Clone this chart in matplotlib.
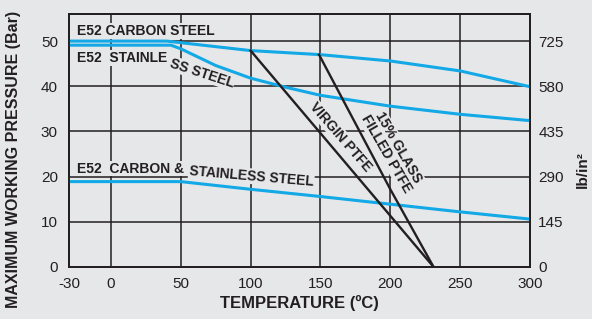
import matplotlib
matplotlib.use("Agg")
import matplotlib.pyplot as plt

plt.rcParams["font.family"] = ["Liberation Sans", "DejaVu Sans"]

# --- data ---
carbon_t = [-30, 40, 100, 150, 200, 250, 300]
carbon_p = [50.0, 50.0, 47.9, 47.0, 45.6, 43.4, 39.9]

stainless_t = [-30, 43, 50, 75, 100, 125, 150, 200, 250, 300]
stainless_p = [49.1, 49.1, 48.3, 44.6, 41.8, 39.8, 38.0, 35.6, 33.8, 32.4]

both_t = [-30, 50, 100, 150, 200, 250, 300]
both_p = [18.9, 18.9, 17.2, 15.6, 13.9, 12.2, 10.6]

virgin_t = [100, 231]
virgin_p = [47.9, 0]

filled_t = [149, 200, 231]
filled_p = [47.0, 17.2, 0]

x_ticks = [-30, 0, 50, 100, 150, 200, 250, 300]
x_grid = [0, 50, 100, 150, 200, 250]
bar_ticks = [0, 10, 20, 30, 40, 50]
psi_labels = ["0", "145", "290", "435", "580", "725"]

bg = "#e6e7e9"
ink = "#231f20"
blue = "#12a9e6"

fig = plt.figure(figsize=(5.92, 3.19), dpi=100, facecolor=bg)
ax = fig.add_axes([69 / 592, 52 / 319, 461 / 592, 253 / 319], facecolor=bg)

ax.set_xlim(-30, 300)
ax.set_ylim(0, 56)

# grid
for x in x_grid:
    ax.axvline(x, color=ink, lw=1.1, zorder=1)
for y in bar_ticks[1:]:
    ax.axhline(y, color=ink, lw=1.1, zorder=1)

# curves
ax.plot(carbon_t, carbon_p, color=blue, lw=2.2, zorder=4)
ax.plot(stainless_t, stainless_p, color=blue, lw=2.2, zorder=4)
ax.plot(both_t, both_p, color=blue, lw=2.2, zorder=4)
ax.plot(virgin_t, virgin_p, color=ink, lw=1.7, zorder=4)
ax.plot(filled_t, filled_p, color=ink, lw=1.7, zorder=4)

# labels on the chart
box = dict(facecolor=bg, edgecolor="none", pad=0.6)
kw = dict(fontsize=10, fontweight="bold", color=ink, zorder=3, bbox=box)
ax.text(-24.5, 52.2, "E52 CARBON STEEL", ha="left", va="center", **kw)
ax.text(-24.5, 46.3, "E52  STAINLE", ha="left", va="center", **kw)
ax.text(65, 42.9, "SS STEEL", ha="center", va="center", rotation=-18,
        rotation_mode="anchor", **kw)
ax.text(-24.5, 21.8, "E52  CARBON &", ha="left", va="center", **kw)
ax.text(100.5, 20.1, "STAINLESS STEEL", ha="center", va="center", rotation=-5,
        rotation_mode="anchor", **kw)
ax.text(164.5, 28.8, "VIRGIN PTFE", ha="center", va="center", rotation=-49,
        rotation_mode="anchor", **kw)
ax.text(201.5, 25.8, "15% GLASS\nFILLED PTFE", ha="center", va="center",
        ma="center", rotation=-60, rotation_mode="anchor", linespacing=0.95, **kw)

# axes styling
for s in ax.spines.values():
    s.set_color(ink)
    s.set_linewidth(1.3)
ax.set_xticks(x_ticks)
ax.set_xticklabels([str(v) for v in x_ticks])
ax.set_yticks(bar_ticks)
ax.tick_params(length=0, labelsize=11, colors=ink)
ax.tick_params(axis="x", pad=7)
ax.tick_params(axis="y", pad=8)

ax2 = ax.twinx()
ax2.set_ylim(0, 56)
ax2.set_yticks(bar_ticks)
ax2.set_yticklabels(psi_labels)
ax2.tick_params(length=0, labelsize=11, colors=ink, pad=6)
for s in ax2.spines.values():
    s.set_color(ink)
    s.set_linewidth(1.3)

ax.set_xlabel("TEMPERATURE (ºC)", fontsize=12, fontweight="bold", color=ink, labelpad=3)
fig.text(0.01, 0.5, "MAXIMUM WORKING PRESSURE (Bar)", rotation=90, ha="left",
         va="center", fontsize=11.5, fontweight="bold", color=ink)
fig.text(590 / 592, 0.47, "lb/in²", rotation=90, ha="right", va="center",
         fontsize=11, fontweight="bold", color=ink)

fig.savefig("out.png", dpi=100, facecolor=bg)
